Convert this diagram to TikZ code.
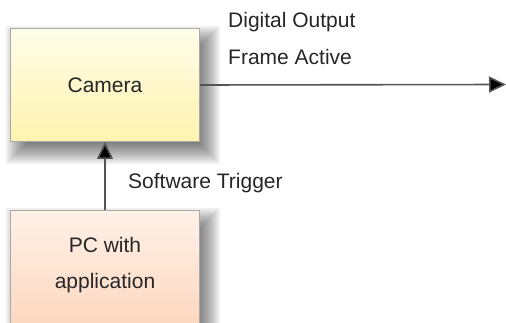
\documentclass[tikz,border=0pt]{standalone}
\usepackage{fontspec}
\setmainfont{Liberation Sans}
\usetikzlibrary{arrows.meta,backgrounds}
\definecolor{camtop}{HTML}{FFFDEA}
\definecolor{cambot}{HTML}{FEF3AE}
\definecolor{pctop}{HTML}{FFF1E8}
\definecolor{pcbot}{HTML}{FCD4BA}
\definecolor{boxline}{HTML}{A8A8A8}
\definecolor{connclr}{HTML}{555555}
\tikzset{
  box/.style={draw=boxline, line width=1pt, minimum width=189pt, inner sep=0pt},
  shadowlayer/.style={fill=black, opacity=0.06},
  lbl/.style={font=\fontsize{21}{36}\selectfont, text=black!85, inner sep=0pt},
  dlbl/.style={font=\fontsize{21}{37}\selectfont, text=black!85, inner sep=0pt},
  connector/.style={draw=connclr, line width=1.6pt, -{Triangle[length=17pt,width=16pt,fill=black]}}
}
\begin{document}
\begin{tikzpicture}[x=1pt,y=-1pt]
\useasboundingbox (0,0) rectangle (506,323);
\clip (0,0) rectangle (506,323);
\node[box, minimum height=113pt, top color=camtop, bottom color=cambot, anchor=north west, lbl] (cam) at (10,28) {Camera};
\node[box, minimum height=130pt, top color=pctop, bottom color=pcbot, anchor=north west,
  label={[lbl, align=center, name=pctext, yshift=10pt]center:PC with\\application}] (pc) at (10,210) {};
\begin{pgfonlayer}{background}
  \foreach \e in {-12,-10,...,12} {
    \fill[shadowlayer] ([shift={(8-\e,10-\e)}]cam.north west) rectangle ([shift={(8+\e,10+\e)}]cam.south east);
    \fill[shadowlayer] ([shift={(8-\e,10-\e)}]pc.north west) rectangle ([shift={(8+\e,10+\e)}]pc.south east);
  }
\end{pgfonlayer}
\coordinate (out) at (506,84.5);
\draw[connector] (pc.north) -- (cam.south);
\draw[connector] (cam.east) -- (out);
\node[lbl, anchor=west] (sw) at (128,183) {Software Trigger};
\node[dlbl, anchor=west, align=left] (dout) at (228,38.5) {Digital Output\\Frame Active};
\end{tikzpicture}
\end{document}
